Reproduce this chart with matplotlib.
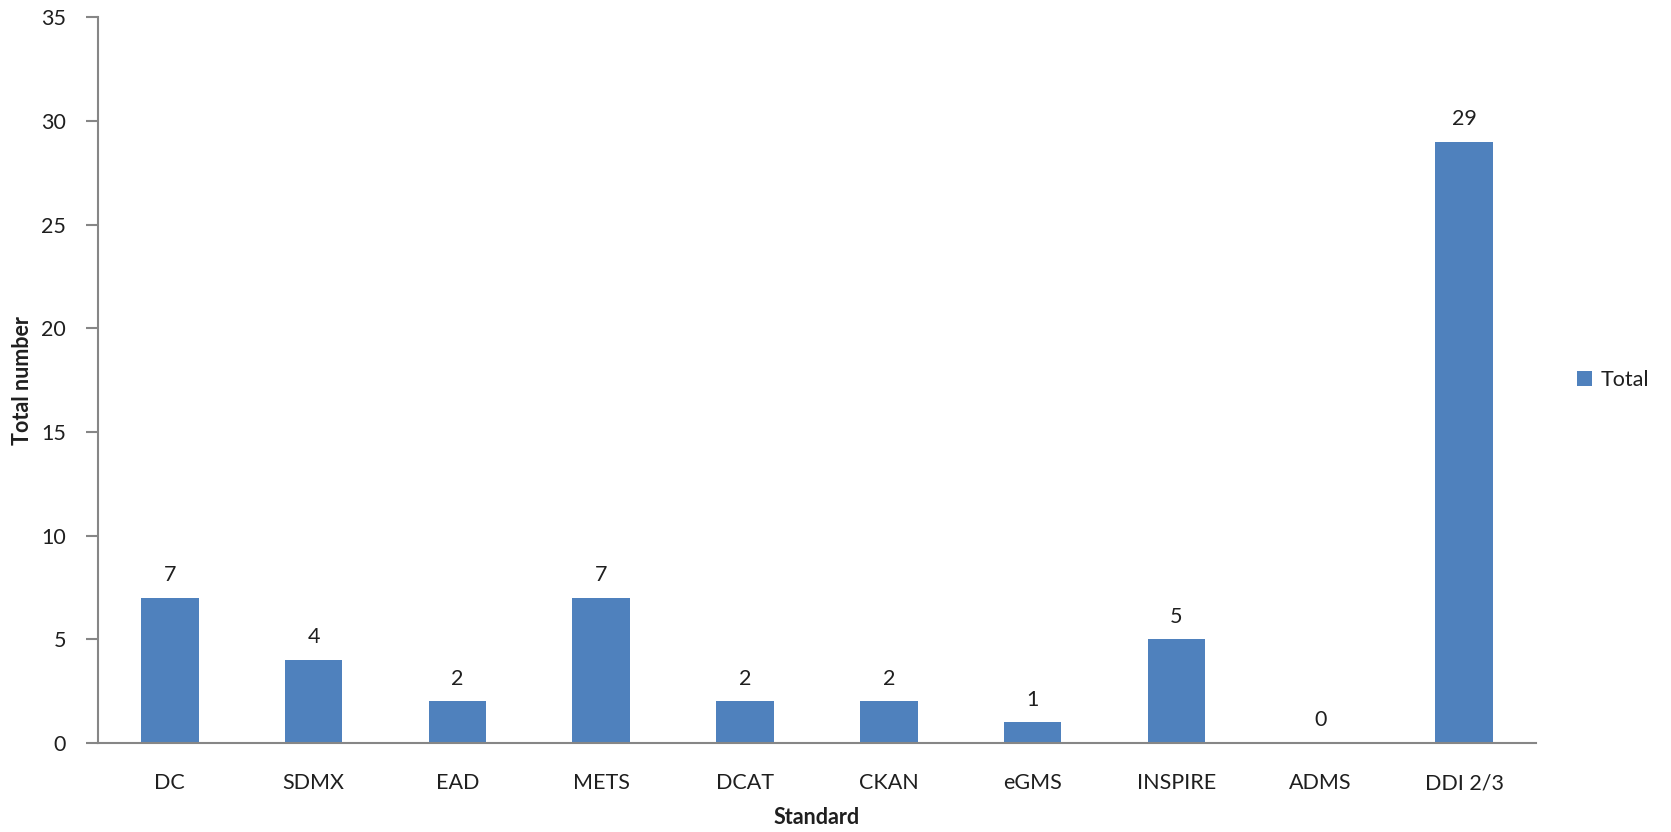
import matplotlib
matplotlib.use('Agg')

import numpy as np
import matplotlib.pyplot as plt

plt.rcParams['font.family'] = ['Lato', 'DejaVu Sans']

# number of datasets per metadata standard
standards = ['DC', 'SDMX', 'EAD', 'METS', 'DCAT', 'CKAN', 'eGMS', 'INSPIRE', 'ADMS', 'DDI 2/3']
totals = [7, 4, 2, 7, 2, 2, 1, 5, 0, 29]
yticks = [0, 5, 10, 15, 20, 25, 30, 35]

bar_col = '#4f81bd'
axis_col = '#868686'
text_col = '#1f1f1f'

fig = plt.figure(figsize=(16.71, 8.32), dpi=100)
ax = fig.add_axes([0.0586, 0.1073, 0.8606, 0.8717])

x = np.arange(len(standards))
bars = ax.bar(x, totals, width=0.4, color=bar_col, label='Total')

for xi, v in zip(x, totals):
    ax.annotate(str(v), xy=(xi, v), xytext=(0, 9), textcoords='offset points',
                ha='center', va='bottom', fontsize=15.5, color=text_col)

ax.set_xlim(-0.5, len(standards) - 0.5)
ax.set_ylim(0, 35)
ax.set_yticks(yticks)
ax.set_xticks(x)
ax.set_xticklabels(standards)

for s in ['top', 'right']:
    ax.spines[s].set_visible(False)
for s in ['left', 'bottom']:
    ax.spines[s].set_color(axis_col)
    ax.spines[s].set_linewidth(1.5)

ax.tick_params(axis='y', direction='out', length=9, width=1.5, color=axis_col,
               labelsize=15.5, labelcolor=text_col, pad=14)
ax.tick_params(axis='x', length=0, labelsize=15.5, labelcolor=text_col, pad=22)

ax.set_xlabel('Standard', fontsize=15.5, fontweight='bold', color=text_col, labelpad=10)
ax.set_ylabel('Total number', fontsize=15.5, fontweight='bold', color=text_col, labelpad=6)

ax.legend(loc='center left', bbox_to_anchor=(1.0, 0.5), frameon=False,
          fontsize=15.5, handlelength=0.7, handleheight=0.7, handletextpad=0.4,
          labelcolor=text_col, borderaxespad=1.5)

fig.savefig('out.png', dpi=100)
